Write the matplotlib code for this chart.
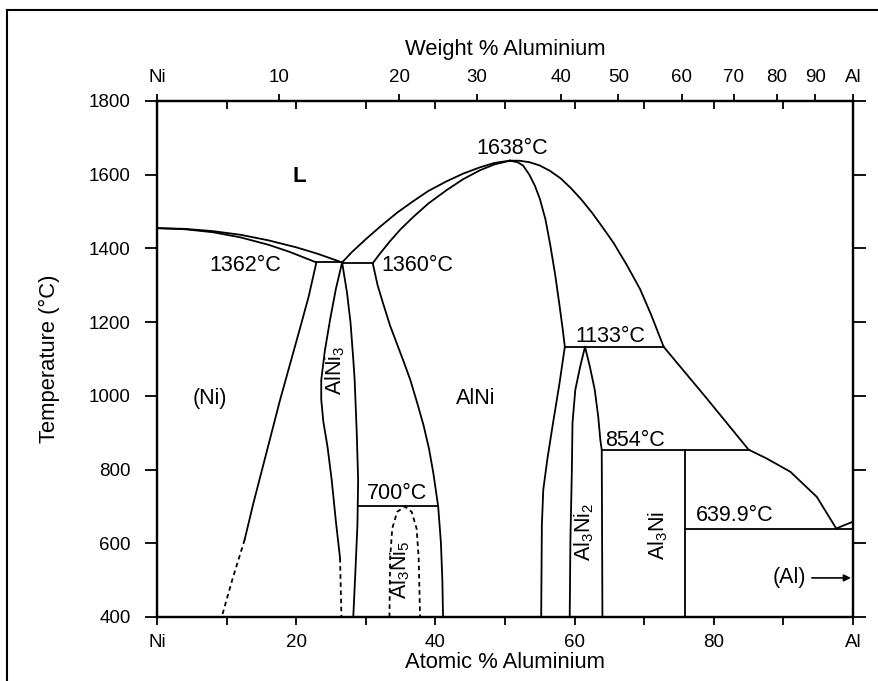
import matplotlib.pyplot as plt
from matplotlib.lines import Line2D

plt.rcParams['font.family'] = ['Liberation Sans', 'DejaVu Sans']
plt.rcParams['mathtext.fontset'] = 'custom'
plt.rcParams['mathtext.rm'] = 'Liberation Sans'

# --- phase boundaries (atomic % Al, temperature in C) ---
# Ni-rich liquidus / solidus down to the 1362 eutectic
liq_ni_x = [0, 4, 8, 12, 16, 20, 23, 26.6]
liq_ni_t = [1455, 1453, 1447, 1437, 1422, 1403, 1386, 1362]
sol_ni_x = [0, 4, 8, 12, 16, 19, 22.9]
sol_ni_t = [1455, 1452, 1444, 1430, 1410, 1391, 1362]

# (Ni) solvus, solid part then dashed part
solv_ni_x = [22.9, 21.8, 20.5, 19.1, 17.7, 16.4, 15.1, 13.8, 12.6]
solv_ni_t = [1362, 1270, 1180, 1085, 990, 895, 800, 705, 610]
solv_ni_dash_x = [12.6, 10.8, 9.3]
solv_ni_dash_t = [610, 500, 400]

# AlNi3 field
alni3_left_x = [26.6, 25.7, 24.9, 24.1, 23.6, 23.6, 23.9, 24.5, 25.1, 25.7, 26.3]
alni3_left_t = [1362, 1290, 1210, 1120, 1043, 990, 930, 862, 772, 660, 560]
alni3_left_dash_x = [26.3, 26.5]
alni3_left_dash_t = [560, 400]
alni3_right_x = [26.6, 27.3, 27.8, 28.2, 28.4, 28.7, 28.9, 28.8, 28.5, 28.2]
alni3_right_t = [1362, 1280, 1200, 1100, 1043, 900, 772, 650, 520, 400]

# AlNi field and liquidus up to the congruent maximum
liq_alni_x = [26.6, 28, 30, 32, 34.5, 36.8, 39, 41.6, 44, 46.4, 48.5, 50.7]
liq_alni_t = [1362, 1390, 1425, 1458, 1497, 1528, 1556, 1582, 1603, 1620, 1632, 1638]
sol_alni_x = [31.0, 32, 33.5, 35, 36.8, 39, 41.6, 44, 46.4, 48.5, 50.7]
sol_alni_t = [1360, 1385, 1420, 1452, 1485, 1522, 1558, 1588, 1612, 1628, 1638]
alni_left_x = [31.0, 31.7, 32.5, 33.5, 34.5, 35.5, 36.4, 37.4, 38.3, 39.1, 39.7,
               40.4, 40.8, 41.0, 41.1]
alni_left_t = [1360, 1300, 1250, 1190, 1140, 1090, 1043, 980, 920, 855, 791,
               700, 600, 500, 400]
alni_right_x = [50.7, 51.8, 52.6, 53.5, 54.3, 55.0, 55.8, 56.5, 57.2, 57.8, 58.3,
                58.6, 57.8, 56.9, 56.1, 55.5, 55.3, 55.2]
alni_right_t = [1638, 1634, 1625, 1600, 1570, 1535, 1480, 1410, 1330, 1250, 1180,
                1133, 1030, 926, 830, 745, 650, 400]

# Al3Ni5 dome (dotted)
al3ni5_x = [33.4, 33.5, 33.8, 34.5, 35.6, 36.6, 37.3, 37.6, 37.8]
al3ni5_t = [400, 560, 640, 685, 700, 685, 640, 560, 400]

# Al3Ni2 field
al3ni2_left_x = [61.5, 60.8, 60.1, 59.7, 59.6, 59.4, 59.3]
al3ni2_left_t = [1133, 1079, 1016, 926, 790, 609, 400]
al3ni2_right_x = [61.5, 62.2, 62.9, 63.4, 63.7, 63.9, 64.0]
al3ni2_right_t = [1133, 1079, 1016, 943, 880, 854, 400]

# Al3Ni line compound
al3ni_x = [75.8, 75.8]
al3ni_t = [854, 400]

# Al-rich liquidus from the maximum to pure Al
liq_al_x = [50.7, 52, 53.5, 55, 56.5, 58, 59.5, 61, 62.5, 64, 65.6, 67.5, 69.4,
            71, 72.8, 78.9, 85.0, 87.6, 91.0, 94.8, 97.6, 98.6, 99.8]
liq_al_t = [1638, 1638, 1634, 1625, 1610, 1590, 1563, 1532, 1497, 1458, 1415,
            1355, 1290, 1220, 1133, 995, 854, 830, 794, 726, 639.9, 648, 657]

# invariant reactions: (temperature, left end, right end)
invariants = [
    (1362, 22.9, 26.6),
    (1360, 26.6, 31.0),
    (1133, 58.6, 72.8),
    (854, 63.9, 85.0),
    (700, 28.9, 40.4),
    (639.9, 75.8, 99.8),
]

temp_ticks = [400, 600, 800, 1000, 1200, 1400, 1600, 1800]
at_ticks = [0, 20, 40, 60, 80, 100]
at_labels = ['Ni', '20', '40', '60', '80', 'Al']
# weight % ticks placed on the atomic % scale
wt_pos = [0, 17.5, 34.8, 46.0, 58.0, 66.3, 75.4, 82.9, 89.1, 94.6, 100]
wt_labels = ['Ni', '10', '20', '30', '40', '50', '60', '70', '80', '90', 'Al']

fig = plt.figure(figsize=(8.79, 6.81), dpi=100)
ax = fig.add_axes([0.1786, 0.094, 0.7918, 0.7577])

kw = dict(color='black', lw=1.3)
dash = dict(color='black', lw=1.3, ls=(0, (2.5, 2)))

ax.plot(liq_ni_x, liq_ni_t, **kw)
ax.plot(sol_ni_x, sol_ni_t, **kw)
ax.plot(solv_ni_x, solv_ni_t, **kw)
ax.plot(solv_ni_dash_x, solv_ni_dash_t, **dash)
ax.plot(alni3_left_x, alni3_left_t, **kw)
ax.plot(alni3_left_dash_x, alni3_left_dash_t, **dash)
ax.plot(alni3_right_x, alni3_right_t, **kw)
ax.plot(liq_alni_x, liq_alni_t, **kw)
ax.plot(sol_alni_x, sol_alni_t, **kw)
ax.plot(alni_left_x, alni_left_t, **kw)
ax.plot(alni_right_x, alni_right_t, **kw)
ax.plot(al3ni5_x, al3ni5_t, **dash)
ax.plot(al3ni2_left_x, al3ni2_left_t, **kw)
ax.plot(al3ni2_right_x, al3ni2_right_t, **kw)
ax.plot(al3ni_x, al3ni_t, **kw)
ax.plot(liq_al_x, liq_al_t, **kw)
for t, x0, x1 in invariants:
    ax.plot([x0, x1], [t, t], **kw)

ax.set_xlim(0, 100)
ax.set_ylim(400, 1800)

# bottom / left
ax.set_xticks(at_ticks)
ax.set_xticklabels(at_labels)
ax.set_xticks([10, 30, 50, 70, 90], minor=True)
ax.set_yticks(temp_ticks)
ax.tick_params(axis='x', which='both', direction='out', length=6, width=1.3,
               labelsize=13.5, pad=6)
ax.tick_params(axis='y', which='both', direction='out', length=9, width=1.3,
               labelsize=13.5, pad=10, right=True)
ax.set_xlabel('Atomic % Aluminium', fontsize=15.8, labelpad=1)
ax.set_ylabel('Temperature (°C)', fontsize=15.8, labelpad=21)
for s in ax.spines.values():
    s.set_linewidth(1.6)

# top axis: weight % ticks outward, atomic ticks inward
top = ax.twiny()
top.set_xlim(0, 100)
top.set_xticks(wt_pos)
top.set_xticklabels(wt_labels)
top.set_xticks([10, 20, 30, 40, 50, 60, 70, 80, 90], minor=True)
top.tick_params(axis='x', which='major', direction='out', length=5, width=1.3,
                labelsize=13.5, pad=6)
top.tick_params(axis='x', which='minor', direction='in', length=6, width=1.3)
top.set_xlabel('Weight % Aluminium', fontsize=15.8, labelpad=10)
for s in top.spines.values():
    s.set_linewidth(1.6)

# field and temperature labels
fs = 15.5
txt = dict(fontsize=fs, ha='center', va='center')
ax.text(20.5, 1594, 'L', fontsize=16, fontweight='bold', ha='center', va='center')
ax.text(51.1, 1672, '1638°C', **txt)
ax.text(17.8, 1355, '1362°C', fontsize=fs, ha='right', va='center')
ax.text(32.3, 1355, '1360°C', fontsize=fs, ha='left', va='center')
ax.text(7.6, 994, '(Ni)', **txt)
ax.text(45.8, 994, 'AlNi', **txt)
ax.text(25.6, 1070, r'AlNi$\mathregular{_3}$', rotation=90, **txt)
ax.text(34.5, 735, '700°C', **txt)
ax.text(34.9, 527, r'Al$\mathregular{_3}$Ni$\mathregular{_5}$', rotation=90, **txt)
ax.text(65.1, 1160, '1133°C', **txt)
ax.text(68.7, 880, '854°C', **txt)
ax.text(61.4, 630, r'Al$\mathregular{_3}$Ni$\mathregular{_2}$', rotation=90, **txt)
ax.text(72.0, 620, r'Al$\mathregular{_3}$Ni', rotation=90, **txt)
ax.text(83.0, 676, '639.9°C', **txt)
ax.annotate('(Al)', xy=(99.7, 506), xytext=(93.3, 506), fontsize=fs,
            ha='right', va='center',
            arrowprops=dict(arrowstyle='-|>', color='black', lw=1.2,
                            mutation_scale=10, shrinkA=2, shrinkB=0))

# outer frame
fig.add_artist(Line2D([0.008, 0.008], [0, 0.985], transform=fig.transFigure,
                      color='black', lw=1.5))
fig.add_artist(Line2D([0.008, 1.0], [0.985, 0.985], transform=fig.transFigure,
                      color='black', lw=1.5))

fig.savefig('out.png', dpi=100)
